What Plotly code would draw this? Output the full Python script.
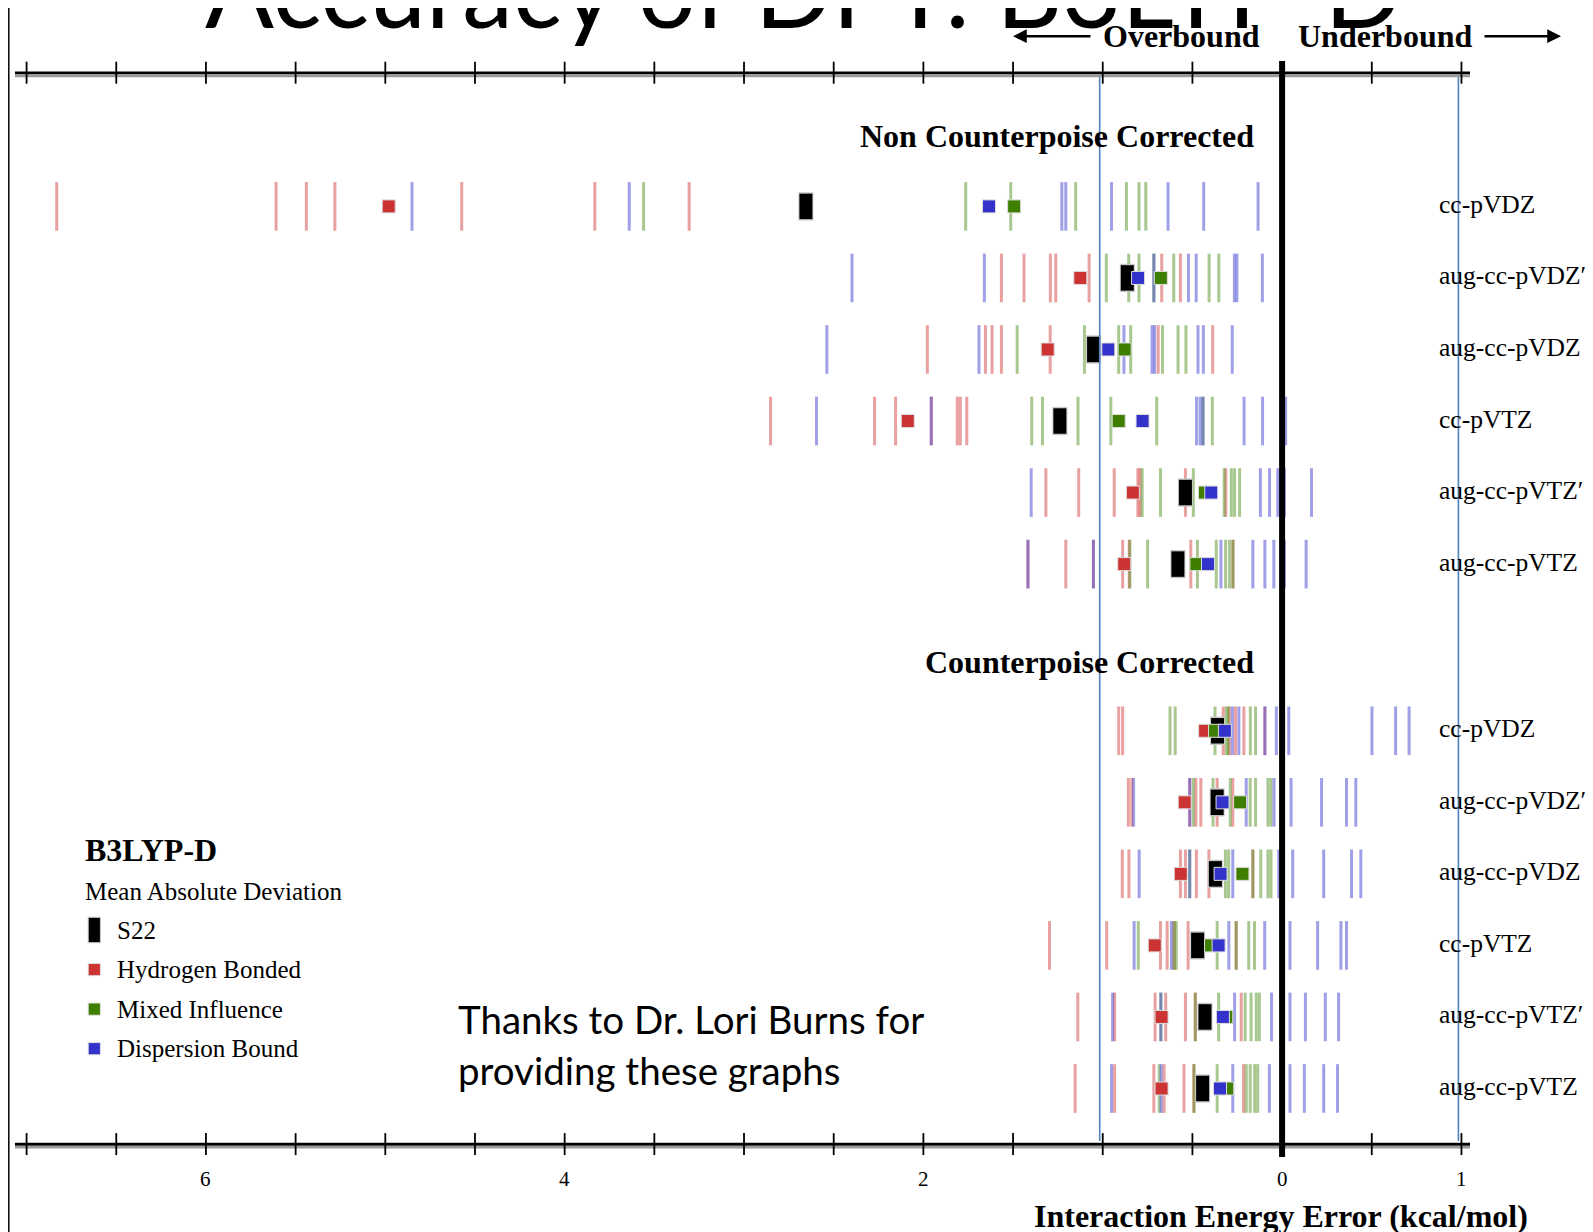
import numpy as np
import plotly.graph_objects as go

W, H = 1593, 1232

# ---------------- data (kcal/mol; negative = overbound) ----------------
BASIS = ["cc-pVDZ", "aug-cc-pVDZ\u2032", "aug-cc-pVDZ", "cc-pVTZ", "aug-cc-pVTZ\u2032", "aug-cc-pVTZ"]

# Non counterpoise corrected
HB_NCP = [
    [-6.832, -5.609, -5.440, -5.281, -4.574, -3.832, -3.306],
    [-1.565, -1.439, -1.292, -1.262, -1.076, -0.671, -0.567],
    [-1.978, -1.654, -1.617, -1.565, -1.293, -0.691, -0.387],
    [-2.852, -2.272, -2.155, -1.956, -1.811, -1.794, -1.758],
    [-1.317, -1.134, -0.936, -0.804, -0.792, -0.539, -0.314],
    [-1.417, -1.206, -1.052, -0.889, -0.852, -0.509, -0.274],
]
MI_NCP = [
    [-3.560, -1.764, -1.513, -1.151, -0.868, -0.798, -0.760],
    [-0.980, -0.855, -0.798, -0.715, -0.604, -0.407, -0.353],
    [-1.477, -1.102, -0.911, -0.844, -0.667, -0.580, -0.536],
    [-1.396, -1.336, -1.138, -0.955, -0.699, -0.441, -0.389],
    [-0.780, -0.678, -0.495, -0.323, -0.283, -0.265, -0.237],
    [-0.849, -0.750, -0.472, -0.367, -0.315, -0.293, -0.274],
]
DB_NCP = [
    [-4.851, -3.640, -1.228, -1.206, -0.951, -0.636, -0.437, -0.134],
    [-2.398, -1.660, -0.715, -0.522, -0.479, -0.266, -0.252, -0.110],
    [-2.538, -1.690, -0.882, -0.725, -0.711, -0.469, -0.439, -0.278],
    [-2.596, -1.956, -0.477, -0.457, -0.441, -0.212, -0.109, 0.020],
    [-1.399, -0.121, -0.070, -0.024, -0.006, 0.003, 0.013, 0.164],
    [-1.417, -1.052, -0.341, -0.163, -0.096, -0.046, 0.013, 0.134],
]
MAD_NCP_S22 = [2.655, 0.863, 1.051, 1.239, 0.539, 0.581]
MAD_NCP_HB = [4.981, 1.125, 1.307, 2.087, 0.832, 0.880]
MAD_NCP_MI = [1.494, 0.676, 0.878, 0.911, 0.430, 0.478]
MAD_NCP_DB = [1.634, 0.803, 0.969, 0.778, 0.395, 0.413]

# Counterpoise corrected
HB_CP = [
    [-0.911, -0.889, -0.328, -0.294, -0.260, -0.213, -0.096],
    [-0.857, -0.838, -0.515, -0.481, -0.453, -0.362, -0.275],
    [-0.891, -0.854, -0.567, -0.539, -0.478, -0.408, -0.163],
    [-1.297, -0.978, -0.678, -0.641, -0.602, -0.524, -0.256],
    [-1.139, -0.934, -0.708, -0.649, -0.539, -0.484, -0.228],
    [-1.154, -0.934, -0.715, -0.658, -0.547, -0.492, -0.215],
]
MI_CP = [
    [-0.625, -0.596, -0.374, -0.311, -0.300, -0.177, -0.148],
    [-0.495, -0.385, -0.289, -0.178, -0.148, -0.079, -0.062],
    [-0.515, -0.316, -0.298, -0.163, -0.119, -0.079, -0.062],
    [-0.802, -0.602, -0.590, -0.362, -0.256, -0.186, -0.154],
    [-0.676, -0.484, -0.354, -0.206, -0.173, -0.144, -0.127],
    [-0.685, -0.491, -0.362, -0.200, -0.178, -0.153, -0.136],
]
DB_CP = [
    [-0.277, -0.241, -0.096, -0.032, 0.037, 0.501, 0.633, 0.708],
    [-0.828, -0.515, -0.200, -0.045, 0.050, 0.220, 0.359, 0.411],
    [-0.797, -0.515, -0.275, -0.019, 0.059, 0.232, 0.387, 0.439],
    [-0.825, -0.617, -0.297, -0.097, 0.044, 0.198, 0.328, 0.359],
    [-0.945, -0.676, -0.265, -0.059, 0.044, 0.130, 0.241, 0.315],
    [-0.951, -0.674, -0.275, -0.071, 0.044, 0.124, 0.232, 0.309],
]
MAD_CP_S22 = [0.360, 0.362, 0.372, 0.471, 0.430, 0.443]
MAD_CP_HB = [0.429, 0.543, 0.565, 0.710, 0.672, 0.672]
MAD_CP_MI = [0.374, 0.234, 0.221, 0.396, 0.311, 0.306]
MAD_CP_DB = [0.319, 0.332, 0.343, 0.354, 0.330, 0.346]

TICK_VALS = [-6, -4, -2, 0, 1]
TICK_TEXT = ["6", "4", "2", "0", "1"]
LEGEND_LABELS = ["S22", "Hydrogen Bonded", "Mixed Influence", "Dispersion Bound"]

# ---------------- layout geometry (pixels) ----------------
X_ZERO_PX, X_UNIT_PX = 1274.1, 179.36
Y_ROW0_PX, Y_ROW_PX = 198.4, 71.54
CP_OFFSET = 7.33
LINE_HALF = 0.34
BAR_HALF = 0.178
REF_LINES = [-1.017, 0.983]

SERIF = "Liberation Serif, Times New Roman, serif"
SANS = "Lato, Open Sans, sans-serif"

x_range = [(0 - X_ZERO_PX) / X_UNIT_PX, (W - X_ZERO_PX) / X_UNIT_PX]
y_range = [(H - Y_ROW0_PX) / Y_ROW_PX, (0 - Y_ROW0_PX) / Y_ROW_PX]


def xv(px):
    return (px - X_ZERO_PX) / X_UNIT_PX


def py(p):
    return 1 - p / H


def pxp(p):
    return p / W


LINE_COL = {"HB": "rgba(209,65,65,0.5)", "MI": "rgba(81,145,33,0.5)", "DB": "rgba(65,65,209,0.5)"}
SQ_COL = {"HB": "#CC3333", "MI": "#3F7F00", "DB": "#3333CC"}

ncp_rows = list(range(len(BASIS)))
cp_rows = [i + CP_OFFSET for i in range(len(BASIS))]
all_rows = ncp_rows + cp_rows

fig = go.Figure()


def segments(rows_vals, rows_pos, half):
    xs, ys = [], []
    for vals, yc in zip(rows_vals, rows_pos):
        for v in vals:
            xs += [v, v, None]
            ys += [yc - half, yc + half, None]
    return xs, ys


for key, ncp, cp in [("HB", HB_NCP, HB_CP), ("MI", MI_NCP, MI_CP), ("DB", DB_NCP, DB_CP)]:
    xs, ys = segments(ncp + cp, all_rows, LINE_HALF)
    fig.add_trace(go.Scatter(x=xs, y=ys, mode="lines", line=dict(color=LINE_COL[key], width=3),
                             hoverinfo="skip", showlegend=False))

# S22 MAD bars
s22 = MAD_NCP_S22 + MAD_CP_S22
bx, by = segments([[-m] for m in s22], all_rows, BAR_HALF + 0.02)
fig.add_trace(go.Scatter(x=bx, y=by, mode="lines", line=dict(color="#c8c8c8", width=15),
                         hoverinfo="skip", showlegend=False))
bx, by = segments([[-m] for m in s22], all_rows, BAR_HALF)
fig.add_trace(go.Scatter(x=bx, y=by, mode="lines", line=dict(color="#000000", width=13),
                         hoverinfo="skip", showlegend=False))

for key, ncp, cp in [("HB", MAD_NCP_HB, MAD_CP_HB), ("MI", MAD_NCP_MI, MAD_CP_MI), ("DB", MAD_NCP_DB, MAD_CP_DB)]:
    fig.add_trace(go.Scatter(x=[-m for m in ncp + cp], y=all_rows, mode="markers",
                             marker=dict(symbol="square", size=13, color=SQ_COL[key],
                                         line=dict(color="#dcdcdc", width=1)),
                             hoverinfo="skip", showlegend=False))

shapes = []
# left frame line
shapes.append(dict(type="line", xref="paper", yref="paper", x0=pxp(0.8), x1=pxp(0.8), y0=0, y1=1,
                   line=dict(color="#000", width=1.5)))
# reference lines near +-1
for v in REF_LINES:
    shapes.append(dict(type="line", xref="x", yref="paper", x0=v, x1=v,
                       y0=py(1133), y1=py(68), line=dict(color="#4F81BD", width=1.6), layer="above"))
# axis lines
ax_x0, ax_x1 = xv(7), xv(1462)
for ypx in (64.7, 1136.1):
    shapes.append(dict(type="line", xref="x", yref="paper", x0=ax_x0, x1=ax_x1, y0=py(ypx + 2), y1=py(ypx + 2),
                       line=dict(color="#9a9a9a", width=5)))
    shapes.append(dict(type="line", xref="x", yref="paper", x0=ax_x0, x1=ax_x1, y0=py(ypx), y1=py(ypx),
                       line=dict(color="#000", width=2.6)))
    for t in np.arange(-7.0, 1.01, 0.5):
        shapes.append(dict(type="line", xref="x", yref="paper", x0=t, x1=t, y0=py(ypx - 11), y1=py(ypx + 11),
                           line=dict(color="#000", width=1.8)))
# zero line
shapes.append(dict(type="line", xref="x", yref="paper", x0=0, x1=0, y0=py(1149), y1=py(53),
                   line=dict(color="#000", width=6), layer="above"))

# legend symbols
leg_y = [922.0, 961.6, 1001.1, 1040.7]
shapes.append(dict(type="rect", xref="paper", yref="paper", x0=pxp(80.2), x1=pxp(92.4),
                   y0=py(leg_y[0] + 12.7), y1=py(leg_y[0] - 12.7),
                   fillcolor="#000", line=dict(color="#c8c8c8", width=1)))
for ly, key in zip(leg_y[1:], ["HB", "MI", "DB"]):
    shapes.append(dict(type="rect", xref="paper", yref="paper", x0=pxp(80.2), x1=pxp(92.4),
                       y0=py(ly + 6.1), y1=py(ly - 6.1),
                       fillcolor=SQ_COL[key], line=dict(color="#dcdcdc", width=1)))

ann = []


def text(x, y, s, size, font=SERIF, bold=False, xanchor="left", yanchor="middle", color="#000"):
    if bold:
        s = "<b>" + s + "</b>"
    ann.append(dict(xref="paper", yref="paper", x=pxp(x), y=py(y), text=s, showarrow=False,
                    xanchor=xanchor, yanchor=yanchor, font=dict(family=font, size=size, color=color)))


# title (cut at top)
text(795, -19, "Accuracy of DFT: B3LYP-D", 102, font=SANS, xanchor="center")
# direction labels
text(1254, 28.2, "Overbound", 32, bold=True, xanchor="right")
text(1288, 28.2, "Underbound", 32, bold=True, xanchor="left")
ann.append(dict(xref="paper", yref="paper", x=pxp(1005), y=py(28.2), ax=79, ay=0, text="", showarrow=True,
                arrowhead=2, arrowsize=1.1, arrowwidth=2.5, arrowcolor="#000"))
ann.append(dict(xref="paper", yref="paper", x=pxp(1553), y=py(28.2), ax=-78, ay=0, text="", showarrow=True,
                arrowhead=2, arrowsize=1.1, arrowwidth=2.5, arrowcolor="#000"))
# group headers
text(1248, 127.7, "Non Counterpoise Corrected", 32, bold=True, xanchor="right")
text(1248, 654.0, "Counterpoise Corrected", 32, bold=True, xanchor="right")
# basis labels
for r, name in zip(all_rows, BASIS + BASIS):
    ann.append(dict(xref="paper", yref="y", x=pxp(1429), y=r, yshift=2, text=name, showarrow=False,
                    xanchor="left", yanchor="middle", font=dict(family=SERIF, size=25.5, color="#000")))
# tick labels
for tv, tt in zip(TICK_VALS, TICK_TEXT):
    ann.append(dict(xref="x", yref="paper", x=tv, y=py(1170.5), text=tt, showarrow=False,
                    xanchor="center", yanchor="middle", font=dict(family=SERIF, size=21, color="#000")))
# axis title
text(1272.6, 1208.1, "Interaction Energy Error (kcal/mol)", 32, bold=True, xanchor="center")
# legend
text(75, 841.8, "B3LYP-D", 32, bold=True)
text(75, 883.4, "Mean Absolute Deviation", 25)
for ly, lab in zip(leg_y, LEGEND_LABELS):
    text(106.5, ly, lab, 25)
# credit
text(447.5, 1011.3, "Thanks to Dr. Lori Burns for", 38.5, font=SANS)
text(447.5, 1062.0, "providing these graphs", 38.5, font=SANS)

fig.update_layout(
    width=W, height=H, margin=dict(l=0, r=0, t=0, b=0),
    paper_bgcolor="white", plot_bgcolor="white",
    xaxis=dict(range=x_range, visible=False, fixedrange=True),
    yaxis=dict(range=y_range, visible=False, fixedrange=True),
    shapes=shapes, annotations=ann, showlegend=False,
)

fig.write_html("out.html")
